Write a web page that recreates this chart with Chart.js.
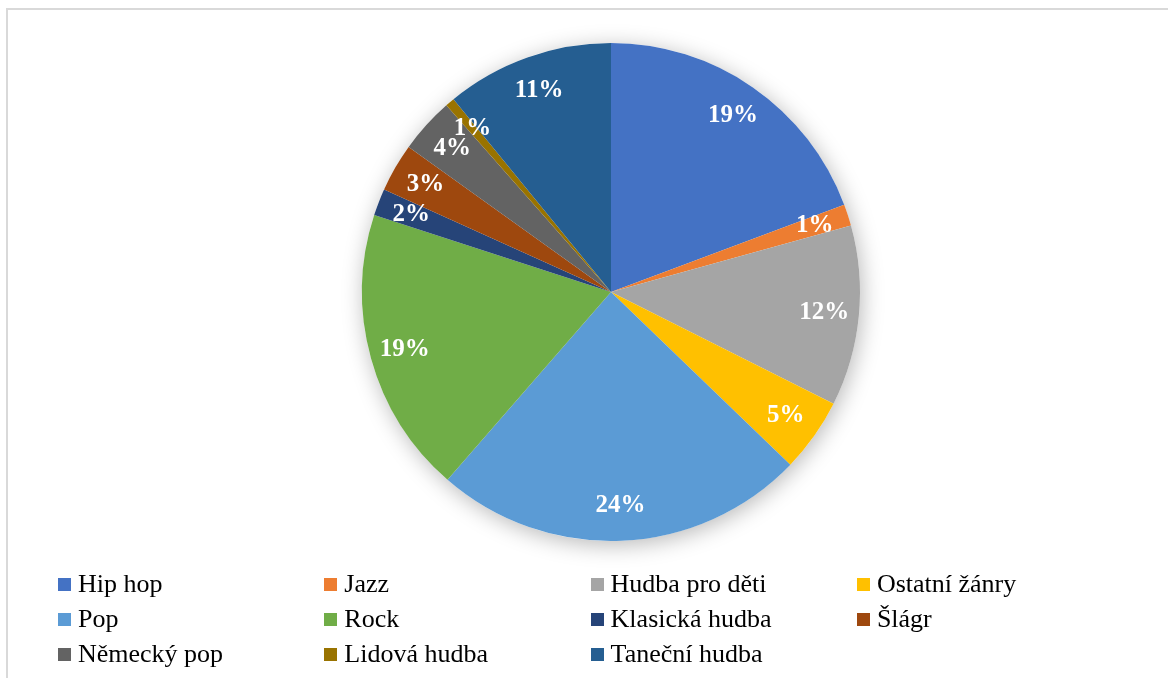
<!DOCTYPE html>
<html lang="cs">
<head>
<meta charset="utf-8">
<title>Hudební žánry</title>
<script src="https://cdn.jsdelivr.net/npm/chart.js@4/dist/chart.umd.min.js"></script>
<style>
  body { margin: 0; background: #fff; }
  #wrap { position: relative; width: 1168px; height: 678px; overflow: hidden; }
  #frame { position: absolute; left: 6px; top: 8px; width: 1200px; height: 700px;
           border-top: 2px solid #d9d9d9; border-left: 2px solid #d9d9d9; }
  #pieChart { position: absolute; left: 0; top: 0; }
  .legItem { position: absolute; height: 35px; display: flex; align-items: center;
             font-family: "Liberation Serif", "Times New Roman", serif; font-size: 26px;
             color: #000; white-space: nowrap; }
  .legBox { width: 13px; height: 13px; margin-right: 7px; flex: none; }
</style>
</head>
<body>
<div id="wrap">
  <div id="frame"></div>
  <canvas id="pieChart" width="1168" height="678"></canvas>
  <div id="legend"></div>
</div>
<script>
const genres = ["Hip hop", "Jazz", "Hudba pro děti", "Ostatní žánry", "Pop", "Rock",
                "Klasická hudba", "Šlágr", "Německý pop", "Lidová hudba", "Taneční hudba"];
const shares = [19.3, 1.4, 11.7, 4.8, 24.2, 18.6, 1.75, 3.15, 3.6, 0.6, 10.9];
const colors = ["#4472C4", "#ED7D31", "#A5A5A5", "#FFC000", "#5B9BD5", "#70AD47",
                "#264478", "#9E480E", "#636363", "#997300", "#255E91"];

// soft shadow under the whole pie
const pieShadow = {
    id: "pieShadow",
    beforeDatasetsDraw(chart) {
        const arc = chart.getDatasetMeta(0).data[0];
        if (!arc) return;
        const ctx = chart.ctx;
        ctx.save();
        ctx.shadowColor = "rgba(0,0,0,0.28)";
        ctx.shadowBlur = 22;
        ctx.shadowOffsetX = 2;
        ctx.shadowOffsetY = 4;
        ctx.fillStyle = "#fff";
        ctx.beginPath();
        ctx.arc(arc.x, arc.y, arc.outerRadius, 0, Math.PI * 2);
        ctx.fill();
        ctx.restore();
    }
};

// percentage labels inside the slices
const pctLabels = {
    id: "pctLabels",
    afterDatasetsDraw(chart) {
        const meta = chart.getDatasetMeta(0);
        const vals = chart.data.datasets[0].data;
        const total = vals.reduce((a, b) => a + b, 0);
        const ctx = chart.ctx;
        ctx.save();
        ctx.fillStyle = "#fff";
        ctx.font = "bold 25px 'Liberation Serif', 'Times New Roman', serif";
        ctx.textAlign = "center";
        ctx.textBaseline = "middle";
        meta.data.forEach(function (arc, i) {
            const mid = (arc.startAngle + arc.endAngle) / 2;
            const r = arc.outerRadius * 0.86;
            const x = arc.x + Math.cos(mid) * r;
            const y = arc.y + Math.sin(mid) * r;
            ctx.fillText(Math.round(vals[i] / total * 100) + "%", x, y);
        });
        ctx.restore();
    }
};

const CHART = document.getElementById("pieChart");

let pieChart = new Chart(CHART, {
    type: "pie",
    data: {
        labels: genres,
        datasets: [{
            data: shares,
            backgroundColor: colors,
            borderWidth: 0
        }]
    },
    options: {
        responsive: false,
        animation: false,
        devicePixelRatio: 1,
        layout: { padding: { top: 43, bottom: 137, left: 54, right: 0 } },
        plugins: {
            legend: { display: false },
            tooltip: { enabled: false }
        }
    },
    plugins: [pieShadow, pctLabels]
});

// legend in four columns under the pie
var legend = document.getElementById("legend");
var i, item, box, txt;
for (i = 0; i < genres.length; i++) {
    item = document.createElement("div");
    item.className = "legItem";
    item.style.left = (58 + (i % 4) * 266.3) + "px";
    item.style.top = (566.5 + Math.floor(i / 4) * 35) + "px";
    box = document.createElement("span");
    box.className = "legBox";
    box.style.background = colors[i];
    txt = document.createElement("span");
    txt.textContent = genres[i];
    item.appendChild(box);
    item.appendChild(txt);
    legend.appendChild(item);
}
</script>
</body>
</html>
